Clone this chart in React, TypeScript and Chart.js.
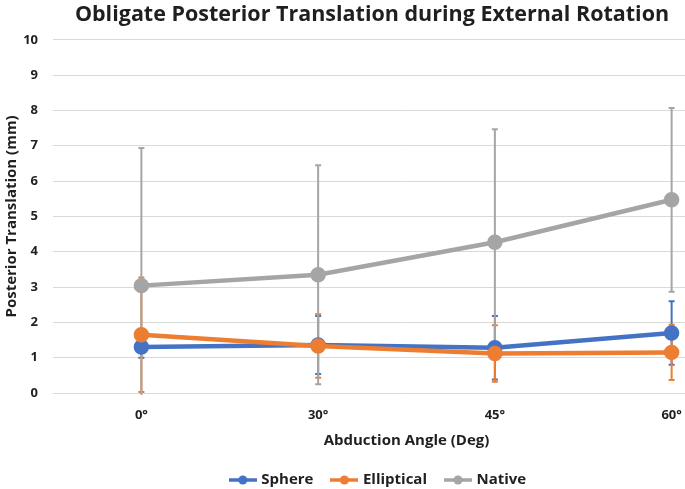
import React, { useEffect, useRef } from "react";
import { Chart, registerables } from "chart.js";

Chart.register(...registerables);

const categories = ["0°", "30°", "45°", "60°"];
const sphere = [1.3, 1.36, 1.28, 1.7];
const sphereErr = [0.3, 0.82, 0.9, 0.9];
const elliptical = [1.65, 1.33, 1.12, 1.15];
const ellipticalErr = [1.62, 0.9, 0.8, 0.78];
const native = [3.04, 3.35, 4.27, 5.47];
const nativeErr = [3.9, 3.1, 3.2, 2.6];
const errors = [sphereErr, ellipticalErr, nativeErr];

const BLUE = "#4472C4";
const ORANGE = "#ED7D31";
const GRAY = "#A5A5A5";
const TEXT = "#1f1f1f";
const FONT = "'Open Sans', sans-serif";

function markerImage(color: string): HTMLCanvasElement {
  const c = document.createElement("canvas");
  c.width = 28;
  c.height = 12;
  const ctx = c.getContext("2d")!;
  ctx.strokeStyle = color;
  ctx.lineWidth = 3.5;
  ctx.beginPath();
  ctx.moveTo(0, 6);
  ctx.lineTo(28, 6);
  ctx.stroke();
  ctx.fillStyle = color;
  ctx.beginPath();
  ctx.arc(14, 6, 4.5, 0, Math.PI * 2);
  ctx.fill();
  return c;
}

const errorBarPlugin = {
  id: "errorBars",
  beforeDatasetsDraw(chart: any) {
    const ctx = chart.ctx;
    const yScale = chart.scales.y;
    const area = chart.chartArea;
    ctx.save();
    ctx.beginPath();
    ctx.rect(area.left, area.top - 2, area.right - area.left, area.bottom - area.top + 4);
    ctx.clip();
    chart.data.datasets.forEach((ds: any, i: number) => {
      const meta = chart.getDatasetMeta(i);
      const errs = errors[i];
      meta.data.forEach((pt: any, j: number) => {
        const v = ds.data[j];
        const e = errs[j];
        const yTop = yScale.getPixelForValue(v + e);
        const yBot = yScale.getPixelForValue(v - e);
        ctx.strokeStyle = ds.borderColor;
        ctx.lineWidth = 2;
        ctx.beginPath();
        ctx.moveTo(pt.x, yTop);
        ctx.lineTo(pt.x, yBot);
        ctx.stroke();
        ctx.beginPath();
        ctx.moveTo(pt.x - 3, yTop);
        ctx.lineTo(pt.x + 3, yTop);
        ctx.moveTo(pt.x - 3, yBot);
        ctx.lineTo(pt.x + 3, yBot);
        ctx.stroke();
      });
    });
    ctx.restore();
  },
};

const centerPlugin = {
  id: "centerBoxes",
  afterLayout(chart: any) {
    if (chart.titleBlock) {
      chart.titleBlock.left = 0;
      chart.titleBlock.right = 744;
    }
    if (chart.legend) {
      const h = chart.legend.bottom - chart.legend.top;
      chart.legend.left = 0;
      chart.legend.right = 758;
      chart.legend.top = 452.5;
      chart.legend.bottom = 452.5 + h;
    }
  },
};

export default function App() {
  const ref = useRef<HTMLCanvasElement>(null);
  useEffect(() => {
    document.body.style.margin = "0";
    const markers = [markerImage(BLUE), markerImage(ORANGE), markerImage(GRAY)];
    const mk = (label: string, data: number[], color: string, order: number) => ({
      label,
      data,
      borderColor: color,
      backgroundColor: color,
      borderWidth: 4.5,
      pointRadius: 5.5,
      pointBackgroundColor: color,
      pointBorderColor: color,
      tension: 0,
      order,
    });
    const chart = new Chart(ref.current!, {
      type: "line",
      data: {
        labels: categories,
        datasets: [
          mk("Sphere", sphere, BLUE, 3),
          mk("Elliptical", elliptical, ORANGE, 2),
          mk("Native", native, GRAY, 1),
        ],
      },
      options: {
        responsive: false,
        animation: false,
        layout: { padding: { left: 0, right: 4, top: 0, bottom: -7 } },
        plugins: {
          title: {
            display: true,
            text: "Obligate Posterior Translation during External Rotation",
            color: TEXT,
            font: { family: FONT, size: 21.5, weight: "bold" },
            padding: { top: 2, bottom: 12 },
          },
          legend: {
            position: "bottom",
            labels: {
              color: TEXT,
              font: { family: FONT, size: 15, weight: "bold" },
              usePointStyle: true,
              pointStyleWidth: 22,
              padding: 20,
              generateLabels(chart: any) {
                const items = Chart.defaults.plugins.legend.labels.generateLabels(chart);
                items.sort((a: any, b: any) => a.datasetIndex - b.datasetIndex);
                return items.map((it: any) => ({ ...it, pointStyle: markers[it.datasetIndex] }));
              },
            },
          },
          tooltip: { enabled: false },
        },
        scales: {
          x: {
            offset: true,
            afterFit(s: any) {
              s.height = 58;
            },
            grid: { display: false, drawTicks: false },
            border: { display: false },
            ticks: { color: TEXT, font: { family: FONT, size: 13, weight: "bold" }, padding: 14 },
            title: {
              display: true,
              text: "Abduction Angle (Deg)",
              color: TEXT,
              font: { family: FONT, size: 15, weight: "bold" },
              padding: { top: 6, bottom: 1 },
            },
          },
          y: {
            min: 0,
            max: 10,
            afterFit(s: any) {
              s.width = 53;
            },
            grid: { color: "#d9d9d9", lineWidth: 1, drawTicks: false },
            border: { display: false },
            ticks: { stepSize: 1, color: TEXT, font: { family: FONT, size: 13, weight: "bold" }, padding: 15 },
            title: {
              display: true,
              text: "Posterior Translation (mm)",
              color: TEXT,
              font: { family: FONT, size: 15, weight: "bold" },
              padding: { top: 3, bottom: 0 },
            },
          },
        },
      },
      plugins: [errorBarPlugin, centerPlugin],
    });
    return () => chart.destroy();
  }, []);
  return (
    <div style={{ width: 685, height: 489, overflow: "hidden", position: "relative" }}>
      <canvas ref={ref} width={770} height={489} style={{ width: 770, height: 489, display: "block" }} />
    </div>
  );
}
